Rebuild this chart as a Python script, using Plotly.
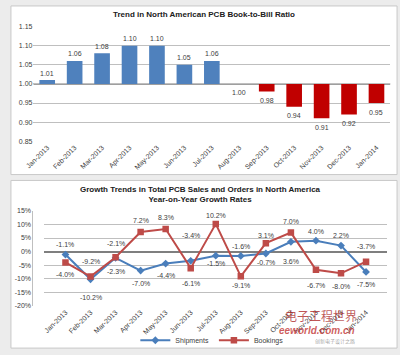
import plotly.graph_objects as go

# ---------------- data ----------------
months = ["Jan-2013", "Feb-2013", "Mar-2013", "Apr-2013", "May-2013", "Jun-2013",
          "Jul-2013", "Aug-2013", "Sep-2013", "Oct-2013", "Nov-2013", "Dec-2013", "Jan-2014"]
book_to_bill = [1.01, 1.06, 1.08, 1.10, 1.10, 1.05, 1.06, 1.00, 0.98, 0.94, 0.91, 0.92, 0.95]
shipments = [-1.1, -10.2, -2.3, -7.0, -4.4, -3.4, -1.5, -1.6, -0.7, 3.6, 4.0, 2.2, -7.5]
bookings = [-4.0, -9.2, -2.1, 7.2, 8.3, -6.1, 10.2, -9.1, 3.1, 7.0, -6.7, -8.0, -3.7]
ratio_ticks = [0.85, 0.90, 0.95, 1.00, 1.05, 1.10, 1.15]
growth_ticks = [-20, -15, -10, -5, 0, 5, 10, 15]

# label placement (pixels, + is up) -- styling only
ship_shift = [10, -18, -14, -13, -12, 25, -8, 9, -9, -20, 9, 10, -13]
book_shift = [-12, 15, 14, 12, 12, -15, 8, -9, 8, 11, -16, -13, 15]

BASE = 1.0
FONT = "Liberation Sans, Arial, sans-serif"
TXT = "#404040"
BLUE_BAR = "#4F81BD"
RED_BAR = "#C00000"
BLUE_LINE = "#4A7EBB"
RED_LINE = "#BE4B48"

fig = go.Figure()

# ---------------- top: bar chart ----------------
bar_colors = [BLUE_BAR if v > BASE else RED_BAR for v in book_to_bill]
fig.add_trace(go.Bar(
    x=months, y=[round(v - BASE, 4) for v in book_to_bill], base=BASE,
    marker=dict(color=bar_colors, line=dict(width=0)),
    width=0.57, xaxis="x", yaxis="y", showlegend=False, hoverinfo="skip"))

annotations = []
for m, v in zip(months, book_to_bill):
    above = v > BASE
    annotations.append(dict(
        x=m, y=v, xref="x", yref="y", text=f"{v:.2f}", showarrow=False,
        yshift=7 if above else -9, yanchor="middle",
        font=dict(family=FONT, size=7, color=TXT)))

# ---------------- bottom: line chart ----------------
fig.add_trace(go.Scatter(
    x=months, y=shipments, name="Shipments", mode="lines+markers",
    line=dict(color=BLUE_LINE, width=2),
    marker=dict(symbol="diamond", size=6, color=BLUE_LINE),
    xaxis="x2", yaxis="y2", hoverinfo="skip"))
fig.add_trace(go.Scatter(
    x=months, y=bookings, name="Bookings", mode="lines+markers",
    line=dict(color=RED_LINE, width=2),
    marker=dict(symbol="square", size=6.5, color=RED_LINE),
    xaxis="x2", yaxis="y2", hoverinfo="skip"))

for m, v, s in zip(months, shipments, ship_shift):
    annotations.append(dict(
        x=m, y=v, xref="x2", yref="y2", text=f"{v:.1f}%", showarrow=False,
        yshift=s, yanchor="middle", font=dict(family=FONT, size=7, color=TXT)))
for m, v, s in zip(months, bookings, book_shift):
    annotations.append(dict(
        x=m, y=v, xref="x2", yref="y2", text=f"{v:.1f}%", showarrow=False,
        yshift=s, yanchor="middle", font=dict(family=FONT, size=7, color=TXT)))

# titles
annotations.append(dict(
    x=0.5, y=1 - 11 / 355, xref="paper", yref="paper", showarrow=False,
    text="<b>Trend in North American PCB Book-to-Bill Ratio</b>",
    font=dict(family=FONT, size=8, color="#202020"), yanchor="middle"))
annotations.append(dict(
    x=0.49, y=1 - 194 / 355, xref="paper", yref="paper", showarrow=False,
    text="<b>Growth Trends in Total PCB Sales and Orders in North America<br>Year-on-Year Growth Rates</b>",
    font=dict(family=FONT, size=8, color="#202020"), yanchor="middle", align="center"))

# watermark
annotations.append(dict(
    x=0.895, y=1 - 318 / 355, xref="paper", yref="paper", showarrow=False,
    text="电子工程世界", font=dict(family="Noto Sans CJK SC", size=12, color="rgba(170,30,30,0.75)"),
    yanchor="middle"))
annotations.append(dict(
    x=0.89, y=1 - 333 / 355, xref="paper", yref="paper", showarrow=False,
    text="<i><b>eeworld.com.cn</b></i>", font=dict(family=FONT, size=10, color="rgba(190,40,40,0.75)"),
    yanchor="middle"))
annotations.append(dict(
    x=0.89, y=1 - 344 / 355, xref="paper", yref="paper", showarrow=False,
    text="创新电子设计之路", font=dict(family="Noto Sans CJK SC", size=5, color="rgba(120,120,120,0.7)"),
    yanchor="middle"))

shapes = [
    # panels
    dict(type="rect", xref="paper", yref="paper", x0=3 / 400, x1=397 / 400,
         y0=1 - 174 / 355, y1=1 - 2 / 355, fillcolor="white",
         line=dict(color="#c8c8c8", width=1), layer="below"),
    dict(type="rect", xref="paper", yref="paper", x0=3 / 400, x1=397 / 400,
         y0=1 - 351 / 355, y1=1 - 180 / 355, fillcolor="white",
         line=dict(color="#c8c8c8", width=1), layer="below"),
    # baseline of the ratio chart
    dict(type="line", xref="x domain", yref="y", x0=0, x1=1, y0=BASE, y1=BASE,
         line=dict(color="#7f7f7f", width=1.5), layer="below"),
]

fig.update_layout(
    width=400, height=355, margin=dict(l=0, r=0, t=0, b=0),
    paper_bgcolor="#ececec", plot_bgcolor="rgba(0,0,0,0)",
    font=dict(family=FONT, size=7, color=TXT),
    bargap=0.43,
    xaxis=dict(domain=[26 / 400, 390 / 400], anchor="y", tickangle=-45,
               showgrid=False, showline=False, ticks="", tickfont=dict(size=7, color=TXT)),
    yaxis=dict(domain=[1 - 140 / 355, 1 - 23 / 355], range=[0.85, 1.15],
               tickvals=ratio_ticks, ticktext=[f"{t:.2f}" for t in ratio_ticks],
               showgrid=True, gridcolor="#bfbfbf", gridwidth=1, zeroline=False,
               showline=False, ticks="", tickfont=dict(size=7, color=TXT)),
    xaxis2=dict(domain=[37 / 400, 387 / 400], anchor="y2", tickangle=-45,
                showgrid=False, showline=False, ticks="", tickfont=dict(size=7, color=TXT)),
    yaxis2=dict(domain=[1 - 308 / 355, 1 - 211 / 355], range=[-20, 15],
                tickvals=growth_ticks, ticktext=[f"{t}%" for t in growth_ticks],
                showgrid=True, gridcolor="#bfbfbf", gridwidth=1,
                zeroline=True, zerolinecolor="#7f7f7f", zerolinewidth=2,
                showline=True, linecolor="#bfbfbf", linewidth=1, ticks="",
                tickfont=dict(size=7, color=TXT)),
    legend=dict(orientation="h", x=0.52, xanchor="center", y=1 - 343 / 355, yanchor="middle",
                font=dict(size=7, color=TXT), bgcolor="rgba(0,0,0,0)",
                itemwidth=30, tracegroupgap=0),
    annotations=annotations,
    shapes=shapes,
)

fig.write_html("out.html", config={"displayModeBar": False},
               post_script="document.body.style.margin='0';document.body.style.overflow='hidden';")
